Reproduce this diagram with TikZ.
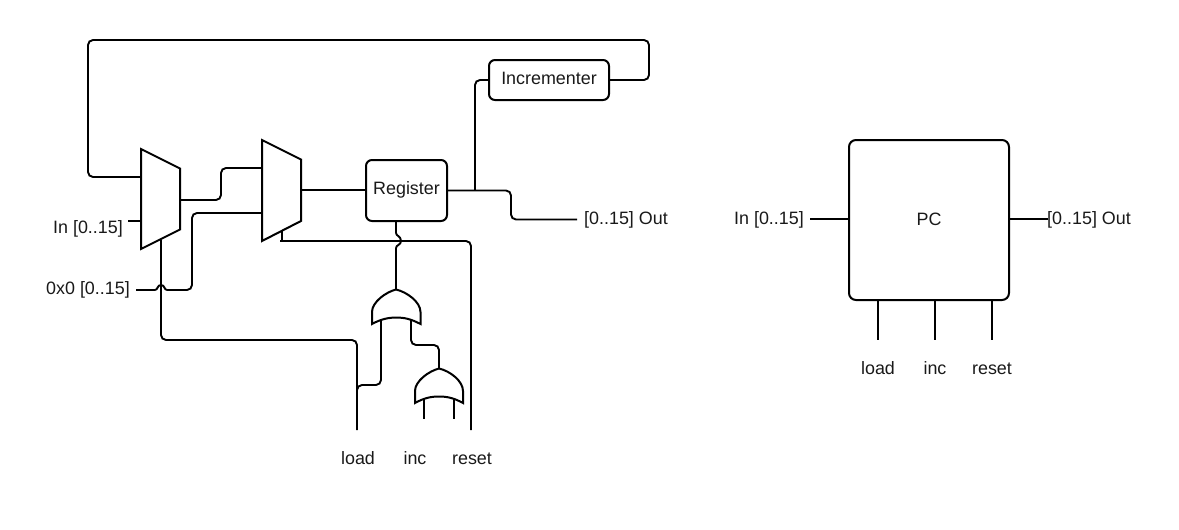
\documentclass[tikz,border=0pt]{standalone}
\usepackage{fontspec}
\setmainfont{Liberation Sans}
\begin{document}
\begin{tikzpicture}[x=1pt,y=-1pt,
  wire/.style={line width=1.9pt,rounded corners=5pt,line cap=butt},
  shapeline/.style={line width=2pt,line join=miter},
  boxnode/.style={draw,line width=2pt,rounded corners=6pt,inner sep=0pt,outer sep=0pt},
  lbl/.style={inner sep=0pt,text height=13pt,text depth=4pt,font=\fontsize{17.9}{20}\selectfont,text=black!90}]
\useasboundingbox (0,0) rectangle (1179,530);
% boxes
\node[boxnode,minimum width=81pt,minimum height=61pt] (reg) at (406.5,190.5) {};
\node[lbl] at (406.5,189.5) (regt) {Register};
\node[boxnode,minimum width=120pt,minimum height=40pt] (inc) at (549,80) {};
\node[lbl] at (549,80) (inct) {Incrementer};
\node[boxnode,minimum width=160pt,minimum height=160pt,rounded corners=7pt] (pc) at (929,220) {};
\node[lbl] at (929,220.5) (pct) {PC};
% muxes
\coordinate (a1) at (141,149); \coordinate (a2) at (180,168.5);
\coordinate (a3) at (180,229.5); \coordinate (a4) at (141,249);
\draw[shapeline] (a1) -- (a2) -- (a3) -- (a4) -- cycle;
\coordinate (b1) at (262,140); \coordinate (b2) at (301,159.5);
\coordinate (b3) at (301,221); \coordinate (b4) at (262,241);
\draw[shapeline] (b1) -- (b2) -- (b3) -- (b4) -- cycle;
% gates
\coordinate (g1t) at (396,289.5); \coordinate (g1l) at (372,324); \coordinate (g1r) at (420.5,324);
\draw[shapeline] (g1l) -- (372,312) .. controls (372,302) and (386,292) .. (g1t)
  .. controls (407,292) and (420.5,302) .. (420.5,312) -- (g1r)
  .. controls (411,319) and (404,317.5) .. (396.5,317.5) .. controls (389,317.5) and (381,319) .. (g1l) -- cycle;
\coordinate (g2t) at (439,368.5); \coordinate (g2l) at (415,403); \coordinate (g2r) at (463,403);
\draw[shapeline] (g2l) -- (415,391) .. controls (415,381) and (429,371) .. (g2t)
  .. controls (450,371) and (463,381) .. (463,391) -- (g2r)
  .. controls (454,398) and (447,396.5) .. (439,396.5) .. controls (431,396.5) and (424,398) .. (g2l) -- cycle;
% labels
\node[lbl] (inL) at (88,228.5) {In [0..15]};
\node[lbl] (zero) at (88,289.5) {0x0 [0..15]};
\node[lbl] (outL) at (626,219.5) {[0..15] Out};
\node[lbl] (load) at (358,459.5) {load};
\node[lbl] (incL) at (415,459.5) {inc};
\node[lbl] (reset) at (472,459.5) {reset};
\node[lbl] (inR) at (769,219.5) {In [0..15]};
\node[lbl] (outR) at (1089,219.5) {[0..15] Out};
\node[lbl] (loadR) at (878,369.5) {load};
\node[lbl] (incR) at (935,369.5) {inc};
\node[lbl] (resetR) at (992,369.5) {reset};
% free ends
\coordinate (inEnd) at (128,221);
\coordinate (zeroEnd) at (136,290);
\coordinate (outEnd) at (577,219.5);
\coordinate (loadEnd) at (357,430);
\coordinate (resetEnd) at (471,430);
\coordinate (br) at (475,190.5);
% wires
\draw[wire] (inc.east) -- (649,80) -- (649,40) -- (88,40) -- (88,177) -- (141,177);
\draw[wire] (180,200) -- (221,200) -- (221,168) -- (262,168);
\draw[wire] (inEnd) -- (141,221);
\draw[wire] (zeroEnd) -- (155,290);
\draw[line width=1.9pt] (155,290) .. controls (158,290) and (157,285) .. (161,285) .. controls (165,285) and (164,290) .. (167,290);
\draw[wire] (167,290) -- (192,290) -- (192,213) -- (262,213);
\draw[wire] (161,239.5) -- (161,340) -- (357,340) -- (loadEnd);
\draw[wire] (282,231) -- (282,241);
\draw[wire] (280,241) -- (471,241) -- (resetEnd);
\draw[wire] (301,190) -- (reg.west |- 301,190);
\draw[wire] (reg.east) -- (511,190.5) -- (511,219.5) -- (outEnd);
\draw[wire] (br) -- (475,80) -- (inc.west);
\draw[wire] (396,221) -- (396,233);
\draw[line width=1.9pt] (396,233) .. controls (396,236) and (401,236) .. (401,241) .. controls (401,245) and (396,245) .. (396,248);
\draw[wire] (396,248) -- (g1t);
\draw[wire] (381,319) -- (381,385) -- (357,385) -- (357,392);
\draw[wire] (411,320) -- (411,345) -- (439,345) -- (g2t);
\draw[wire] (424,398) -- (424,419);
\draw[wire] (454,398) -- (454,419);
% right block
\draw[wire] (810,219) -- (pc.west |- 810,219);
\draw[wire] (pc.east |- 810,219) -- (1048,219);
\draw[wire] (878,300) -- (878,340);
\draw[wire] (935,300) -- (935,340);
\draw[wire] (992,300) -- (992,340);
\end{tikzpicture}
\end{document}
